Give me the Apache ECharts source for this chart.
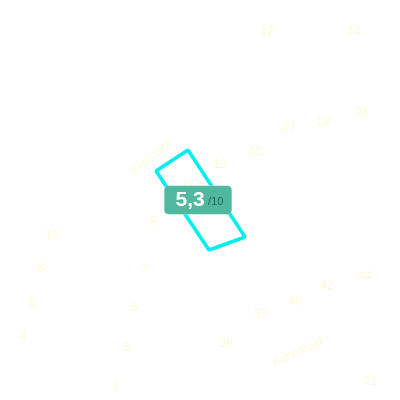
<!DOCTYPE html>
<html><head><meta charset="utf-8">
<script src="https://cdn.jsdelivr.net/npm/echarts@6/dist/echarts.min.js"></script>
<style>html,body{margin:0;padding:0;background:#fff}#c{width:400px;height:400px}</style>
</head><body><div id="c"></div>
<script>
const houseNumbers = ['12','14','21','19','17','15','13','11','9','10','8','7','6','5','4','3','1','36','38','40','42','44','71'];
const houseX = [267,354,362,323,289,256,220,188,153,52,41,144,32,134,24,126,116,226,261,295,327,365,371];
const houseY = [32,32,113,122,128,152,165,187,222,236,269,270,303,308,337,348,387,344,315,302,286,277,382];
const streetNames = ['Eisenack','Kantstraat'];
const streetX = [152,298];
const streetY = [157,352];
const streetAngle = [39,25];
const buildingX = [156,188,245,241,209];
const buildingY = [171,150,237,238.5,250];
const scoreValue = '5,3';
const scoreMax = '/10';
const scoreX = [198];
const scoreY = [200];

const chart = echarts.init(document.getElementById('c'));
const houseData = houseNumbers.map((n,i)=>({value:[houseX[i],houseY[i]],name:n}));
const streetData = streetNames.map((n,i)=>({value:[streetX[i],streetY[i]],name:n,label:{rotate:streetAngle[i]}}));
const poly = buildingX.map((x,i)=>[x,buildingY[i]]);
chart.setOption({
  backgroundColor:'#ffffff',
  animation:false,
  grid:{left:0,right:0,top:0,bottom:0},
  xAxis:{type:'value',min:0,max:400,show:false},
  yAxis:{type:'value',min:0,max:400,inverse:true,show:false},
  series:[
    {type:'scatter',symbolSize:0,data:houseData,silent:true,
     label:{show:true,position:'inside',formatter:'{b}',color:'#fcf8cc',fontSize:12,fontFamily:'Liberation Sans, Arial'}},
    {type:'scatter',symbolSize:0,data:streetData,silent:true,
     label:{show:true,position:'inside',formatter:'{b}',color:'#fcf8d4',fontSize:12,fontFamily:'Liberation Sans, Arial'}},
    {type:'custom',data:[0],silent:true,renderItem:function(params,api){
      const pts = poly.map(p=>api.coord(p));
      return {type:'polygon',shape:{points:pts},style:{fill:'none',stroke:'#00f0f0',lineWidth:3.5,lineJoin:'bevel'}};
    },z:3},
    {type:'scatter',symbolSize:0,z:5,silent:true,data:[{value:[scoreX[0],scoreY[0]]}],
     label:{show:true,position:'inside',opacity:1,
       formatter:'{a|'+scoreValue+'} {b|'+scoreMax+'}',
       backgroundColor:'#50b89e',borderRadius:4,padding:[3,8,3,11],borderColor:'#a8ddd0',borderWidth:0.5,
       rich:{a:{color:'#ffffff',fontSize:21,fontWeight:'bold',fontFamily:'Liberation Sans, Arial',lineHeight:22},
             b:{color:'#2f5f55',fontSize:11,fontFamily:'Liberation Sans, Arial',padding:[4,0,0,0]}}}}
  ]
});
</script></body></html>
